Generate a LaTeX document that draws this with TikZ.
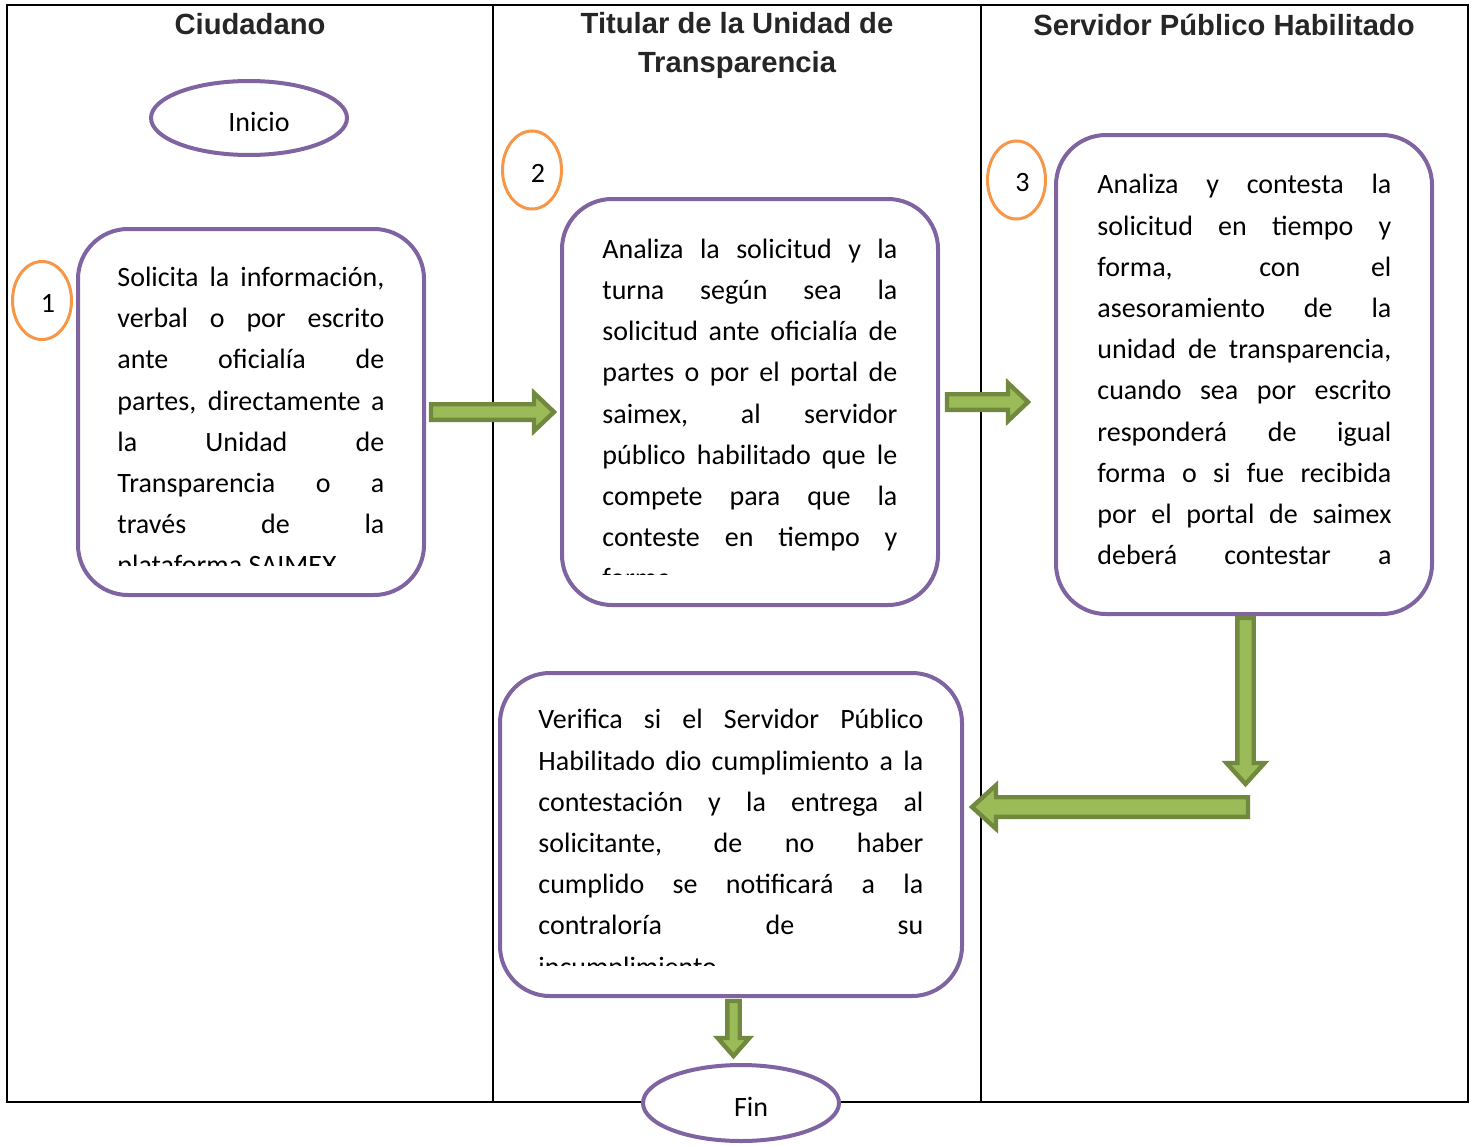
\documentclass[tikz,border=0pt]{standalone}
\usepackage{fontspec}
\setmainfont{Carlito}
\newfontfamily\encabezado{Liberation Sans}
\usetikzlibrary{shapes.geometric,calc}

\definecolor{morado}{HTML}{8064A2}
\definecolor{naranja}{HTML}{F79646}
\definecolor{verde}{HTML}{9BBB59}
\definecolor{verdeosc}{HTML}{71893F}

\newcommand{\bajar}[2]{\raisebox{-#1}[\height][\depth]{#2}}
% parrafo justificado, sin guiones
\newcommand{\parrafo}[2]{\begin{minipage}[t]{#1}\tolerance=10000\relax\hyphenpenalty=10000\relax\strut #2\end{minipage}}

\tikzset{
  carril/.style={draw=black, line width=1pt},
  titulo/.style={font=\encabezado\bfseries\fontsize{14.6}{19.5}\selectfont, text=black!85, align=center, inner sep=0pt},
  terminal/.style={ellipse, draw=morado, line width=2pt, fill=white, minimum width=98pt, minimum height=37pt, inner sep=0pt, font=\fontsize{14}{17}\selectfont},
  numero/.style={ellipse, draw=naranja, line width=1.5pt, minimum width=29.5pt, minimum height=39pt, inner sep=0pt, font=\fontsize{14}{17}\selectfont},
  caja/.style={rectangle, rounded corners=25pt, draw=morado, line width=2pt, inner sep=0pt},
  texto/.style={anchor=north west, inner sep=0pt, font=\fontsize{14}{20.6}\selectfont},
  flecha/.style={draw=verdeosc, fill=verde, line width=2.2pt, line join=miter}
}

% flecha de bloque: inicio, punta, medio cuerpo, media cabeza, largo cabeza
\newcommand{\flechabloque}[5]{%
  \coordinate (fb) at ($(#2)!#5!(#1)$);
  \draw[flecha] ($(#1)!#3!90:(#2)$) -- ($(fb)!#3!-90:(#1)$) -- ($(fb)!#4!-90:(#1)$) -- (#2)
    -- ($(fb)!#4!90:(#1)$) -- ($(fb)!#3!90:(#1)$) -- ($(#1)!#3!-90:(#2)$) -- cycle;
}

\begin{document}
\begin{tikzpicture}[x=0.5pt,y=-0.5pt]
\useasboundingbox (0,0) rectangle (1471,1145);

% carriles
\draw[carril, line width=1.2pt] (7,5) rectangle (1468,1102);
\draw[carril] (493,5) -- (493,1102);
\draw[carril] (981,5) -- (981,1102);

\node[titulo] (ciudadano) at (250,24.5) {Ciudadano};
\node[titulo] (titular) at (737,45) {Titular de la Unidad de\\Transparencia};
\node[titulo] (servidor) at (1224,24.5) {Servidor Público Habilitado};

% inicio y pasos
\node[terminal] (inicio) at (249,118) {\hspace{10pt}\bajar{2pt}{Inicio}};

\node[numero] (n1) at (42,300.5) {\hspace{6pt}\bajar{1.5pt}{1}};
\node[numero] (n2) at (532,170) {\hspace{6pt}\bajar{1.5pt}{2}};
\node[numero, minimum width=29pt] (n3) at (1016.5,180) {\hspace{6pt}\bajar{1.5pt}{3}};

\node[caja, minimum width=173pt, minimum height=183pt] (caja1) at (251,412) {};
\node[caja, minimum width=188pt, minimum height=203pt] (caja2) at (750,402) {};
\node[caja, minimum width=188pt, minimum height=239.5pt] (caja3) at (1244,374.5) {};
\node[caja, minimum width=231pt, minimum height=161.5pt] (caja4) at (731,834.5) {};

\begin{scope}
  \clip (100,240) rectangle (410,565);
  \node[texto] (t1) at (117,257.3) {\parrafo{133.5pt}{Solicita la información,\linebreak verbal o por escrito\linebreak ante oficialía de\linebreak partes, directamente a\linebreak la Unidad de\linebreak Transparencia o a\linebreak través de la\linebreak plataforma SAIMEX}};
\end{scope}
\begin{scope}
  \clip (585,215) rectangle (920,574);
  \node[texto] (t2) at (602,229) {\parrafo{147.5pt}{Analiza la solicitud y la\linebreak turna según sea la\linebreak solicitud ante oficialía de\linebreak partes o por el portal de\linebreak saimex, al servidor\linebreak público habilitado que le\linebreak compete para que la\linebreak conteste en tiempo y\linebreak forma}};
\end{scope}
\begin{scope}
  \clip (1080,150) rectangle (1415,578);
  \node[texto] (t3) at (1097,164.6) {\parrafo{147pt}{Analiza y contesta la\linebreak solicitud en tiempo y\linebreak forma, con el\linebreak asesoramiento de la\linebreak unidad de transparencia,\linebreak cuando sea por escrito\linebreak responderá de igual\linebreak forma o si fue recibida\linebreak por el portal de saimex\linebreak deberá contestar a\linebreak}};
\end{scope}
\begin{scope}
  \clip (520,685) rectangle (945,965);
  \node[texto] (t4) at (538,699.6) {\parrafo{192.5pt}{Verifica si el Servidor Público\linebreak Habilitado dio cumplimiento a la\linebreak contestación y la entrega al\linebreak solicitante, de no haber\linebreak cumplido se notificará a la\linebreak contraloría de su\linebreak incumplimiento}};
\end{scope}

\node[terminal, minimum height=38pt] (fin) at (741,1103) {\hspace{10pt}\bajar{2pt}{Fin}};

% flechas
\coordinate (a1i) at ([xshift=2.5pt]caja1.east);
\coordinate[xshift=-3pt] (a1f) at (caja1.east -| caja2.west);
\coordinate (a2i) at ([xshift=3.5pt]caja2.east);
\coordinate (a2f) at ([xshift=44pt]caja2.east);
\coordinate (a3i) at ([xshift=0.75pt,yshift=-1pt]caja3.south);
\coordinate (a3f) at ([xshift=0.75pt,yshift=-84pt]caja3.south);
\coordinate (a4f) at ([xshift=4pt,yshift=13.75pt]caja4.east);
\coordinate[xshift=1.25pt] (a4i) at (a3f |- a4f);
\coordinate (a5i) at ([xshift=1.25pt,yshift=-1.5pt]caja4.south);
\coordinate[yshift=3.5pt] (a5f) at (a5i |- fin.north);

\flechabloque{a1i}{a1f}{3.9pt}{9.5pt}{10pt}
\flechabloque{a2i}{a2f}{3.9pt}{9.5pt}{10pt}
\flechabloque{a3i}{a3f}{4.1pt}{9.5pt}{10.5pt}
\flechabloque{a4i}{a4f}{4.9pt}{10.9pt}{12pt}
\flechabloque{a5i}{a5f}{3.1pt}{7.9pt}{9pt}
\end{tikzpicture}
\end{document}
